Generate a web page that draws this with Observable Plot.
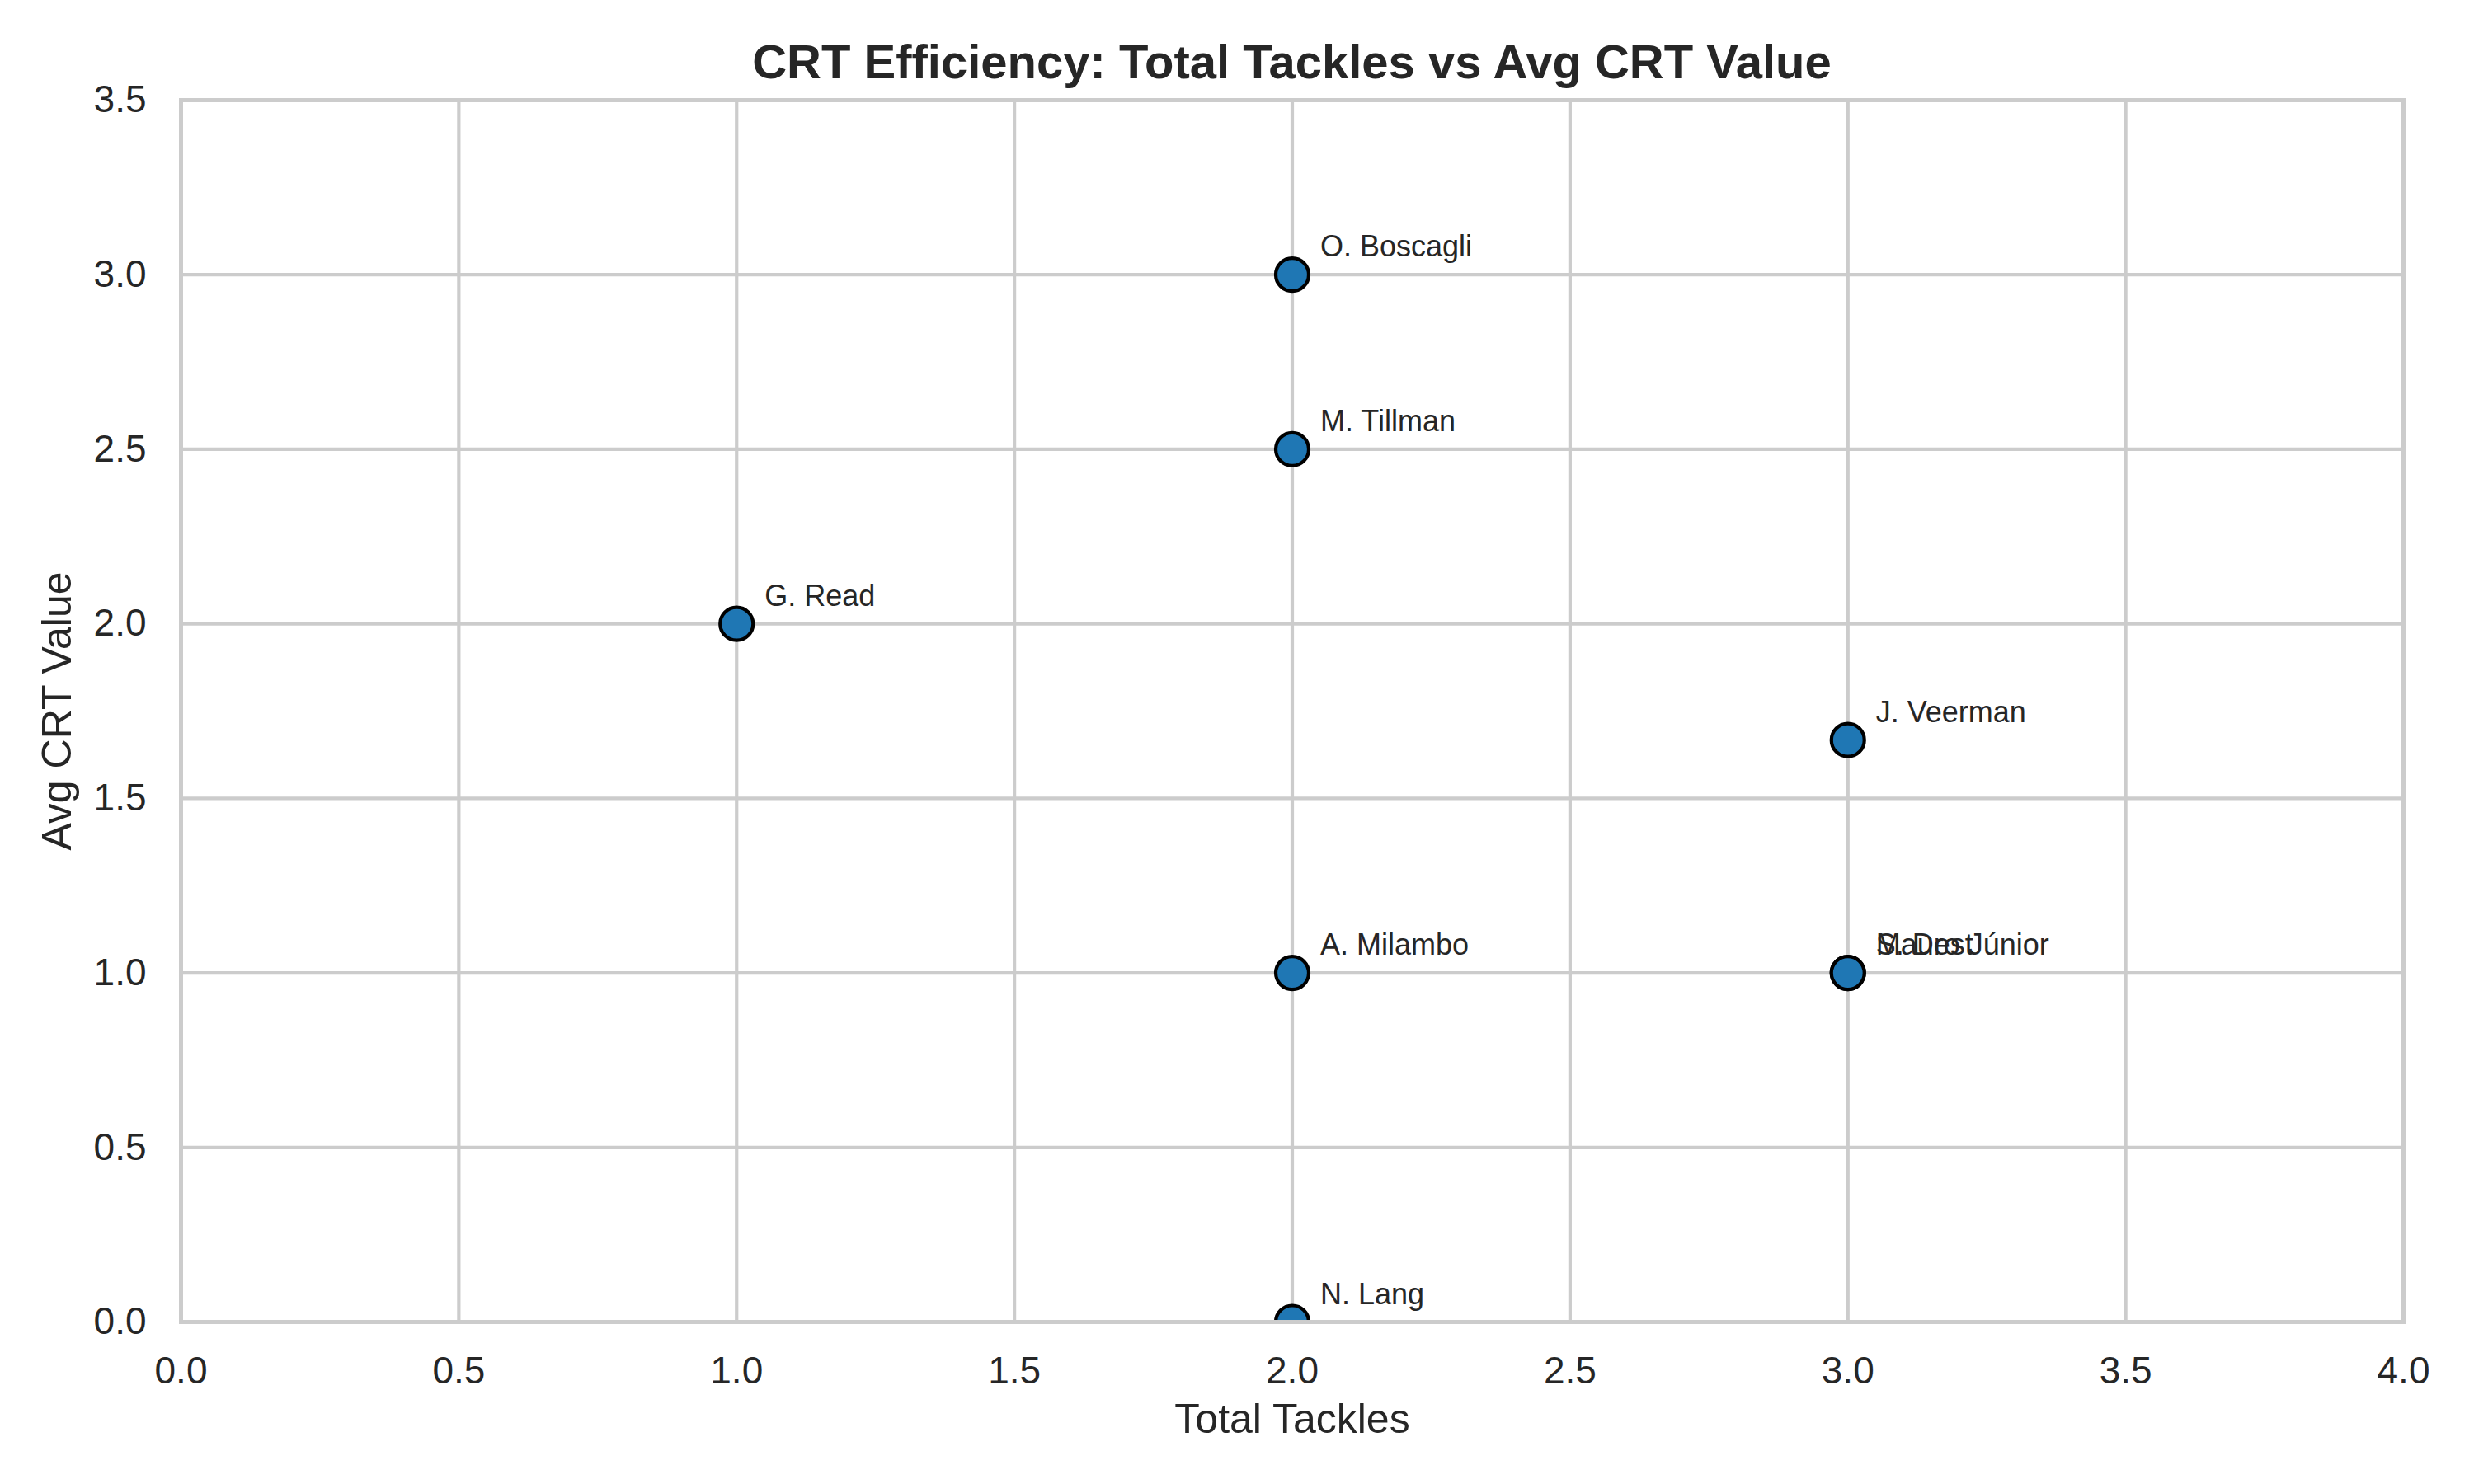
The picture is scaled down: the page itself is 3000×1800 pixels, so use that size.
<!DOCTYPE html>
<html>
<head>
<meta charset="utf-8">
<script src="https://cdn.jsdelivr.net/npm/d3@7"></script>
<script src="https://cdn.jsdelivr.net/npm/@observablehq/plot@0.6"></script>
<style>
  html, body { margin: 0; padding: 0; background: #ffffff; }
  #wrap { width: 3000px; height: 1800px; position: relative; background: #ffffff; }
  #title { position: relative; width: 3000px; height: 100px; }
  #title span {
    position: absolute; top: 46px; left: 219px; width: 2695px; text-align: center;
    font-family: "Liberation Sans", Arial, sans-serif; font-weight: bold; font-size: 58px;
    line-height: 58px; color: #262626; white-space: nowrap;
  }
</style>
</head>
<body>
<div id="wrap">
  <div id="title"><span>CRT Efficiency: Total Tackles vs Avg CRT Value</span></div>
  <div id="chart"></div>
</div>
<script>
// ---- data ----
const players = ["O. Boscagli", "M. Tillman", "G. Read", "J. Veerman", "A. Milambo", "S. Dest", "Mauro Júnior", "N. Lang"];
const totalTackles = [2, 2, 1, 3, 2, 3, 3, 2];
const avgCrtValue = [3.0, 2.5, 2.0, 1.667, 1.0, 1.0, 1.0, 0.0];
const xTicks = [0, 0.5, 1.0, 1.5, 2.0, 2.5, 3.0, 3.5, 4.0];
const yTicks = [0, 0.5, 1.0, 1.5, 2.0, 2.5, 3.0, 3.5];
const xLabel = "Total Tackles";
const yLabel = "Avg CRT Value";

const rows = players.map((p, i) => ({ player: p, tackles: totalTackles[i], crt: avgCrtValue[i] }));

const textColor = "#262626";
const gridColor = "#cccccc";
const fmt = d3.format(".1f");

const chart = Plot.plot({
  width: 3000,
  height: 1700,
  marginTop: 21,
  marginBottom: 197,
  marginLeft: 219,
  marginRight: 86,
  style: { fontFamily: '"Liberation Sans", Arial, sans-serif', fontSize: "46px", color: textColor, background: "#ffffff", overflow: "visible" },
  x: { domain: [0, 4], ticks: xTicks, tickFormat: fmt, label: null },
  y: { domain: [0, 3.5], ticks: yTicks, tickFormat: fmt, label: null },
  marks: [
    Plot.gridX(xTicks, { stroke: gridColor, strokeOpacity: 1, strokeWidth: 4.2 }),
    Plot.gridY(yTicks, { stroke: gridColor, strokeOpacity: 1, strokeWidth: 4.2 }),
    Plot.axisX(xTicks, { tickSize: 0, tickPadding: 42, tickFormat: fmt, fontSize: 46, fill: textColor, label: null }),
    Plot.axisY(yTicks, { tickSize: 0, tickPadding: 42, tickFormat: fmt, fontSize: 46, fill: textColor, label: null }),
    Plot.dot(rows, { x: "tackles", y: "crt", r: 20, fill: "#1f77b4", stroke: "#000000", strokeWidth: 4.2, clip: true }),
    Plot.frame({ stroke: gridColor, strokeWidth: 5 }),
    Plot.text(rows, { x: "tackles", y: "crt", text: "player", dx: 34, dy: -22, textAnchor: "start", lineAnchor: "bottom", fontSize: 36, fill: textColor }),
    Plot.text([xLabel], { frameAnchor: "bottom", dy: 134, lineAnchor: "bottom", fontSize: 50, fill: textColor }),
    Plot.text([yLabel], { frameAnchor: "left", dx: -150, rotate: -90, lineAnchor: "middle", textAnchor: "middle", fontSize: 50, fill: textColor })
  ]
});
document.getElementById("chart").appendChild(chart);
</script>
</body>
</html>
